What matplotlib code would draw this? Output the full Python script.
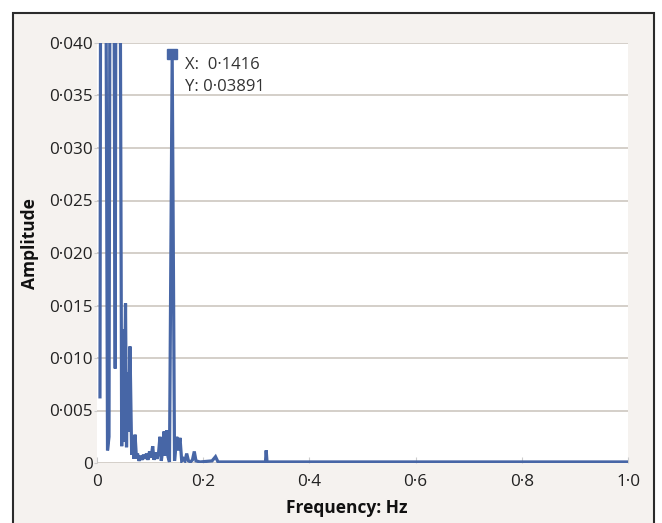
import matplotlib
matplotlib.use("Agg")
import matplotlib.pyplot as plt
from matplotlib.patches import Rectangle

plt.rcParams["font.family"] = ["Open Sans", "DejaVu Sans"]

# amplitude spectrum (values above 0.040 are clipped in the original)
freq = [0.0056, 0.0085, 0.0141, 0.0198, 0.0226, 0.0264, 0.0301, 0.0343, 0.0377, 0.0414,
        0.0465, 0.0490, 0.0508, 0.0537, 0.0556, 0.0571, 0.0593, 0.0621, 0.0653, 0.0678,
        0.0697, 0.0716, 0.0744, 0.0763, 0.0791, 0.0819, 0.0847, 0.0876, 0.0904, 0.0932,
        0.0960, 0.0989, 0.1017, 0.1049, 0.1073, 0.1102, 0.1130, 0.1158, 0.1186, 0.1211,
        0.1237, 0.1262, 0.1286, 0.1313, 0.1337, 0.1365, 0.1416, 0.1460, 0.1501, 0.1531,
        0.1563, 0.1595, 0.1629, 0.1657, 0.1689, 0.1723, 0.1761, 0.1798, 0.1832, 0.1864,
        0.1940, 0.2166, 0.2232, 0.2279, 0.3173, 0.3186, 0.3202, 1.0]
amp = [0.0063, 0.110, 0.090, 0.0012, 0.0025, 0.100, 0.080, 0.0090, 0.120, 0.085,
       0.0016, 0.0127, 0.0020, 0.0152, 0.0015, 0.0086, 0.0030, 0.0111, 0.0008, 0.0020,
       0.0004, 0.0027, 0.0004, 0.0009, 0.0002, 0.0007, 0.0003, 0.0008, 0.0004, 0.0009,
       0.0003, 0.0011, 0.0005, 0.0016, 0.0003, 0.0010, 0.0004, 0.0009, 0.0025, 0.0002,
       0.0012, 0.0030, 0.0007, 0.0031, 0.0006, 0.0001, 0.03891, 0.0002, 0.0025, 0.0012,
       0.0024, 0.0002, 0.0004, 0.0002, 0.0009, 0.0002, 0.0001, 0.0003, 0.0011, 0.0002,
       0.0001, 0.0002, 0.0006, 0.0001, 0.0001, 0.0012, 0.0001, 0.0001]

peak_f = 0.1416
peak_a = 0.03891

xticks = [0, 0.2, 0.4, 0.6, 0.8, 1.0]
xtick_labels = ["0", "0·2", "0·4", "0·6", "0·8", "1·0"]
yticks = [0, 0.005, 0.010, 0.015, 0.020, 0.025, 0.030, 0.035, 0.040]
ytick_labels = ["0", "0·005", "0·010", "0·015", "0·020", "0·025", "0·030", "0·035", "0·040"]

W, H = 662, 523
fig = plt.figure(figsize=(W / 100, H / 100), dpi=100, facecolor="white")

# beige panel with dark frame (bottom edge runs off the image)
panel = Rectangle((13 / W, -0.05), (654 - 13) / W, 1.05 - 13 / H,
                  transform=fig.transFigure, facecolor="#f5f2ef",
                  edgecolor="#2b2b2b", linewidth=1.5, zorder=-10)
fig.patches.append(panel)

ax = fig.add_axes([97 / W, 1 - 463 / H, (628 - 97) / W, (463 - 43) / H])
ax.set_zorder(1)
ax.set_facecolor("white")
ax.set_xlim(0, 1.0)
ax.set_ylim(0, 0.040)

ax.plot(freq, amp, color="#4766a6", linewidth=2.3, solid_joinstyle="miter", zorder=3)
ax.plot([peak_f], [peak_a], marker="s", markersize=6.5, color="#4766a6", zorder=4)
ax.annotate("X:  0·1416\nY: 0·03891", xy=(peak_f, peak_a), xytext=(9, -2),
            textcoords="offset points", va="top", ha="left", fontsize=12,
            color="#333333", linespacing=1.45)

for s in ax.spines.values():
    s.set_visible(False)

ax.set_yticks(yticks)
ax.set_yticklabels(ytick_labels)
ax.set_xticks(xticks)
ax.set_xticklabels(xtick_labels)
ax.grid(axis="y", color="#cdc7c0", linewidth=1.2)
ax.set_axisbelow(True)
ax.tick_params(axis="y", direction="out", length=2, color="#cccccc", pad=1,
               labelsize=12.3, labelcolor="#222222")
ax.tick_params(axis="x", direction="in", length=4, color="#cccccc", pad=8,
               labelsize=12.3, labelcolor="#222222")

ax.set_xlabel("Frequency: Hz", fontsize=12.5, fontweight="bold", color="#111111", va="center")
ax.set_ylabel("Amplitude", fontsize=12.5, fontweight="bold", color="#111111", va="center")
ax.xaxis.set_label_coords((347 - 97) / (628 - 97), -(508 - 463) / (463 - 43))
ax.yaxis.set_label_coords(-(97 - 30) / (628 - 97), (463 - 244) / (463 - 43))

fig.savefig("out.png", dpi=100)
